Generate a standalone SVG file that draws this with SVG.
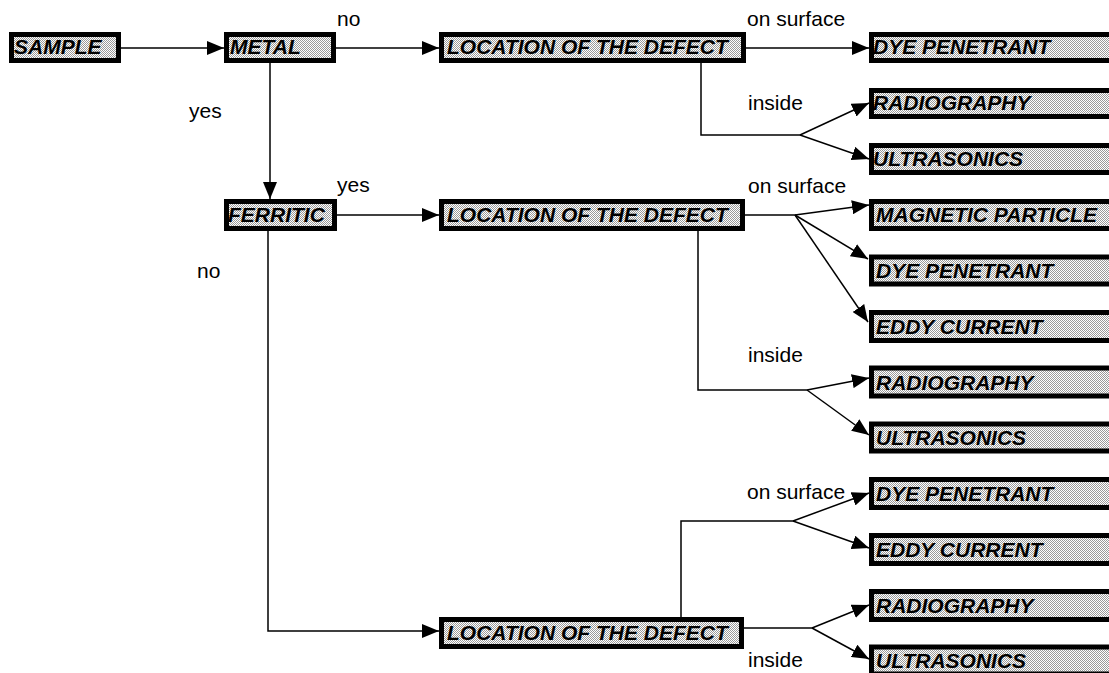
<svg xmlns="http://www.w3.org/2000/svg" width="1109" height="673" viewBox="0 0 1109 673">
<defs>
<pattern id="dots" width="2" height="2" patternUnits="userSpaceOnUse">
<rect width="2" height="2" fill="#ffffff"/>
<rect x="0" y="0" width="1" height="1" fill="#9a9a9a"/>
<rect x="1" y="1" width="1" height="1" fill="#9a9a9a"/>
</pattern>
<marker id="arr" markerUnits="userSpaceOnUse" viewBox="0 0 17 14" refX="17" refY="7" markerWidth="17" markerHeight="14" orient="auto">
<path d="M0,0 L17,7 L0,14 Z" fill="#000"/>
</marker>
<style>
.box{fill:url(#dots);stroke:#000;stroke-width:5}
.bt{font-family:"Liberation Sans",Arial,sans-serif;font-weight:bold;font-style:italic;font-size:21px;fill:#000}
.lb{font-family:"Liberation Sans",Arial,sans-serif;font-size:21px;fill:#000}
.c{fill:none;stroke:#000;stroke-width:1.5}
.a{fill:none;stroke:#000;stroke-width:1.5;marker-end:url(#arr)}
</style>
</defs>
<rect width="1109" height="673" fill="#fff"/>

<g id="connectors">
<path class="a" d="M121,48 H224"/>
<path class="a" d="M336,48 H439"/>
<path class="a" d="M746,48 H869"/>
<path class="c" d="M701,63 V135 H800"/>
<path class="a" d="M800,135 L869,103"/>
<path class="a" d="M800,135 L869,159"/>
<path class="a" d="M270,63 V199"/>
<path class="a" d="M337,215 H439"/>
<path class="c" d="M745,215 H795"/>
<path class="a" d="M795,215 L869,205"/>
<path class="a" d="M795,215 L868,259"/>
<path class="a" d="M795,215 L868,322"/>
<path class="c" d="M698,231 V390 H807"/>
<path class="a" d="M807,390 L869,378"/>
<path class="a" d="M807,390 L869,435"/>
<path class="a" d="M268,231 V631 H439"/>
<path class="c" d="M681,617 V521 H793"/>
<path class="a" d="M793,521 L869,493"/>
<path class="a" d="M793,521 L869,548"/>
<path class="c" d="M744,628 H812"/>
<path class="a" d="M812,628 L869,605"/>
<path class="a" d="M812,628 L869,659"/>
</g>

<g id="labels">
<text class="lb" x="337" y="26">no</text>
<text class="lb" x="189" y="118">yes</text>
<text class="lb" x="337" y="192">yes</text>
<text class="lb" x="197" y="278">no</text>
<text class="lb" x="747" y="26">on surface</text>
<text class="lb" x="748" y="110">inside</text>
<text class="lb" x="748" y="193">on surface</text>
<text class="lb" x="748" y="362">inside</text>
<text class="lb" x="747" y="499">on surface</text>
<text class="lb" x="748" y="667">inside</text>
</g>

<g id="sample"><rect class="box" x="11.5" y="34.5" width="107" height="26"/><text class="bt" x="14" y="54">SAMPLE</text></g>
<g id="metal"><rect class="box" x="226.5" y="34.5" width="107" height="26"/><text class="bt" x="230" y="54">METAL</text></g>
<g id="loc1"><rect class="box" x="441.5" y="34.5" width="302" height="26"/><text class="bt" x="447" y="54">LOCATION OF THE DEFECT</text></g>
<g id="ferritic"><rect class="box" x="226.5" y="201.5" width="108" height="27"/><text class="bt" x="228" y="222">FERRITIC</text></g>
<g id="loc2"><rect class="box" x="441.5" y="201.5" width="301" height="27"/><text class="bt" x="447" y="222">LOCATION OF THE DEFECT</text></g>
<g id="loc3"><rect class="box" x="441.5" y="619.5" width="300" height="27"/><text class="bt" x="447" y="640">LOCATION OF THE DEFECT</text></g>

<g id="r1"><rect class="box" x="871.5" y="34.5" width="250" height="26"/><text class="bt" x="873" y="54">DYE PENETRANT</text></g>
<g id="r2"><rect class="box" x="871.5" y="90.5" width="250" height="26"/><text class="bt" x="873" y="110">RADIOGRAPHY</text></g>
<g id="r3"><rect class="box" x="871.5" y="145.5" width="250" height="27"/><text class="bt" x="873" y="166">ULTRASONICS</text></g>
<g id="r4"><rect class="box" x="871.5" y="201.5" width="250" height="27"/><text class="bt" x="876" y="222">MAGNETIC PARTICLE</text></g>
<g id="r5"><rect class="box" x="871.5" y="257" width="250" height="27"/><text class="bt" x="876" y="278">DYE PENETRANT</text></g>
<g id="r6"><rect class="box" x="871.5" y="312.5" width="250" height="28"/><text class="bt" x="876" y="334">EDDY CURRENT</text></g>
<g id="r7"><rect class="box" x="871.5" y="368" width="250" height="28"/><text class="bt" x="876" y="390">RADIOGRAPHY</text></g>
<g id="r8"><rect class="box" x="871.5" y="424" width="250" height="27"/><text class="bt" x="876" y="445">ULTRASONICS</text></g>
<g id="r9"><rect class="box" x="871.5" y="479.5" width="250" height="28"/><text class="bt" x="876" y="501">DYE PENETRANT</text></g>
<g id="r10"><rect class="box" x="871.5" y="535.5" width="250" height="28"/><text class="bt" x="876" y="557">EDDY CURRENT</text></g>
<g id="r11"><rect class="box" x="871.5" y="591.5" width="250" height="28"/><text class="bt" x="876" y="613">RADIOGRAPHY</text></g>
<g id="r12"><rect class="box" x="871.5" y="647" width="250" height="27"/><text class="bt" x="876" y="668">ULTRASONICS</text></g>
</svg>
